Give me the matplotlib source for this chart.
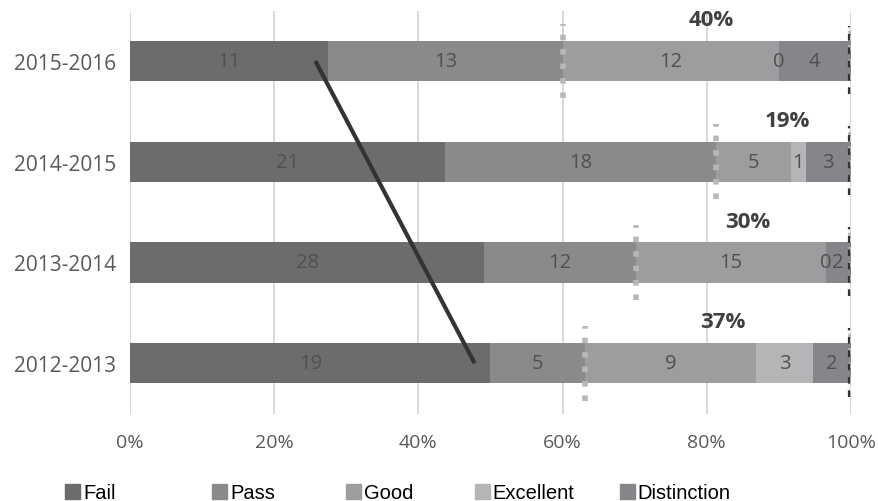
import numpy as np
import matplotlib.pyplot as plt
from matplotlib.patches import Patch

plt.rcParams['font.family'] = ['Open Sans', 'DejaVu Sans']

# data (counts per grade)
years = ['2012-2013', '2013-2014', '2014-2015', '2015-2016']
grades = ['Fail', 'Pass', 'Good', 'Excellent', 'Distinction']
fail = [19, 28, 21, 11]
pass_ = [5, 12, 18, 13]
good = [9, 15, 5, 12]
excellent = [3, 0, 1, 0]
distinction = [2, 2, 3, 4]
colors = ['#6c6c6e', '#8a8a8c', '#9d9d9f', '#b5b5b7', '#86868a']

counts = np.array([fail, pass_, good, excellent, distinction], dtype=float)
totals = counts.sum(axis=0)
fracs = counts / totals
lefts = np.vstack([np.zeros(len(years)), np.cumsum(fracs, axis=0)[:-1]])

fig = plt.figure(figsize=(8.79, 5.02), dpi=100)
ax = fig.add_axes([0.148, 0.174, 0.820, 0.803])

y = np.arange(len(years))
h = 0.4
for k in range(len(grades)):
    ax.barh(y, fracs[k], left=lefts[k], height=h, color=colors[k], zorder=2)
    for i in range(len(years)):
        ax.text(lefts[k][i] + fracs[k][i] / 2, y[i], '%d' % counts[k][i],
                ha='center', va='center', fontsize=14.5, color='#505050', zorder=3)

# share of Good and above, with markers at its start and at 100%
top_share = fracs[2:].sum(axis=0)
start = 1 - top_share
for i in range(len(years)):
    ax.plot([start[i], start[i]], [y[i] - 0.37, y[i] + 0.37], color='#b8b8b8',
            lw=4, dashes=(1.0, 1.6), zorder=4)
    ax.plot([1, 1], [y[i] - 0.33, y[i] + 0.37], color='#b8b8b8',
            lw=4, dashes=(1.0, 1.6), zorder=4)
    ax.plot([0.997, 0.997], [y[i] - 0.33, y[i] + 0.35], color='#333333',
            lw=1.6, dashes=(3, 3), zorder=5)
    ax.text((start[i] + 1) / 2 + 0.006, y[i] + 0.41, '%d%%' % round(top_share[i] * 100),
            ha='center', va='center', fontsize=16, fontweight='bold', color='#404040', zorder=5)

# trend line across the Fail share
ax.plot([fracs[0][3] - 0.018, fracs[0][0] - 0.022], [y[3], y[0]],
        color='#333333', lw=3, solid_capstyle='butt', zorder=6)

ax.set_xlim(0, 1)
ax.set_ylim(-0.5, 3.5)
ax.set_xticks(np.arange(0, 1.01, 0.2))
ax.set_xticklabels(['%d%%' % v for v in range(0, 101, 20)], fontsize=14, color='#595959')
ax.set_yticks(y)
ax.set_yticklabels(years, fontsize=15, color='#595959')
ax.tick_params(length=0, pad=10)
ax.tick_params(axis='x', pad=14)
ax.grid(axis='x', color='#d9d9d9', lw=1.5, zorder=0)
ax.set_axisbelow(True)
for s in ax.spines.values():
    s.set_visible(False)

# legend entries placed one by one, as in the original
leg_x = [0.074, 0.241, 0.394, 0.540, 0.705]
for name, c, lx in zip(grades, colors, leg_x):
    fig.legend([Patch(color=c)], [name], loc='center left', bbox_to_anchor=(lx, 0.016),
               frameon=False, handlelength=0.75, handleheight=0.75, handletextpad=0.15,
               borderpad=0, borderaxespad=0,
               prop={'family': 'Liberation Sans', 'size': 14.5})

fig.savefig('out.png', dpi=100)
